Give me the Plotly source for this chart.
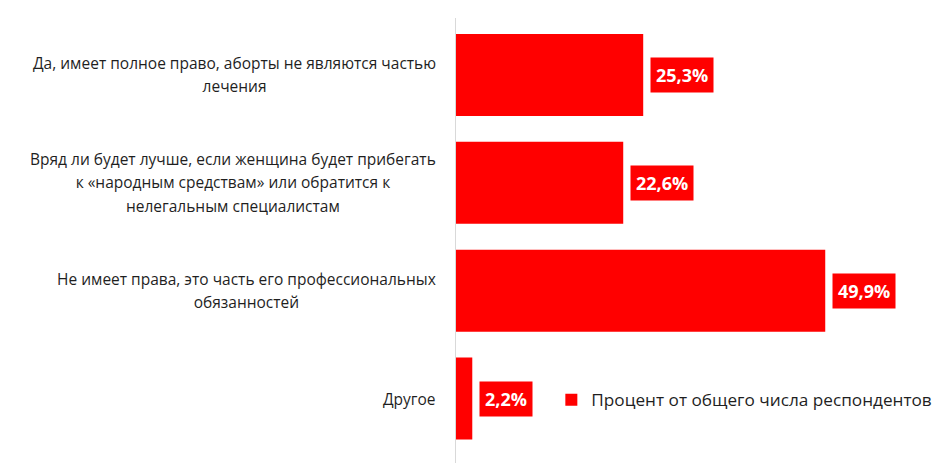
import plotly.graph_objects as go

categories = [
    "Да, имеет полное право, аборты не являются частью<br>лечения",
    "Вряд ли будет лучше, если женщина будет прибегать<br>к «народным средствам» или обратится к<br>нелегальным специалистам",
    "Не имеет права, это часть его профессиональных<br>обязанностей",
    "Другое",
]
values = [25.3, 22.6, 49.9, 2.2]
value_labels = ["25,3%", "22,6%", "49,9%", "2,2%"]
series_name = "Процент от общего числа респондентов"

RED = "#FF0000"
FONT = "Open Sans"

fig = go.Figure()
fig.add_trace(go.Bar(
    x=values, y=list(range(len(categories))), orientation="h",
    marker=dict(color=RED, line=dict(width=0)),
    name=series_name, showlegend=True,
))

for i, (cat, v, lab) in enumerate(zip(categories, values, value_labels)):
    styled = "<br>".join("<span style='font-size:15.5px'>%s</span>" % ln for ln in cat.split("<br>"))
    # base font size 18 sets the line spacing (~23.5 px); visible glyphs are 15.5 px
    fig.add_annotation(x=0, y=i, xref="x", yref="y", text=styled, showarrow=False,
                       xanchor="right", yanchor="middle", align="center", xshift=-18,
                       font=dict(family=FONT, size=18, color="#1F1F1F"))
    fig.add_annotation(x=v, y=i, xref="x", yref="y", text="<b>" + lab + "</b>", showarrow=False,
                       xanchor="left", yanchor="middle", xshift=7,
                       bgcolor=RED, borderpad=5,
                       font=dict(family=FONT, size=18, color="white"))

fig.update_layout(
    width=950, height=463,
    margin=dict(l=456, r=0, t=18, b=0),
    paper_bgcolor="white", plot_bgcolor="white",
    bargap=0.24,
    xaxis=dict(range=[0, 66.76], visible=False, fixedrange=True),
    yaxis=dict(range=[3.597, -0.528], showticklabels=False, showgrid=False, zeroline=False,
               showline=True, linecolor="#D9D9D9", linewidth=1, ticks=""),
    legend=dict(x=0.193, y=0.1416, xanchor="left", yanchor="middle",
                font=dict(family=FONT, size=17.2, color="#1F1F1F"), bgcolor="rgba(0,0,0,0)"),
    font=dict(family=FONT),
)

fig.write_html("out.html")
